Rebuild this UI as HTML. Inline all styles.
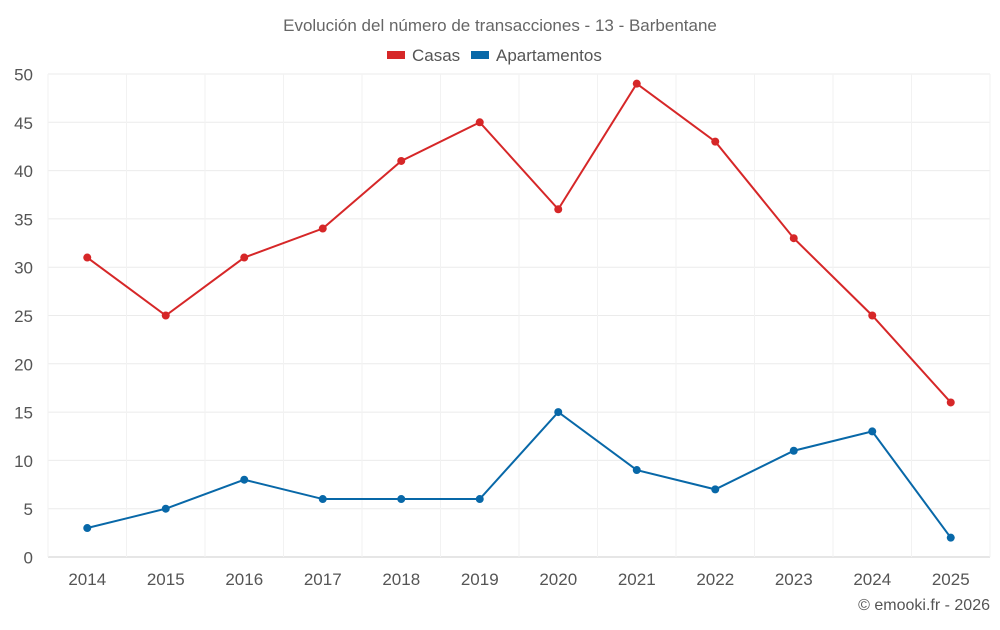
<!DOCTYPE html>
<html><head><meta charset="utf-8"><style>
body{margin:0;background:#fff;font-family:"Liberation Sans",sans-serif;}
svg text{font-family:"Liberation Sans",sans-serif;}
</style></head><body>
<svg id="chart" width="1000" height="625">
<text x="500" y="31" text-anchor="middle" font-size="17" fill="#666">Evolución del número de transacciones - 13 - Barbentane</text>
<g>
<g><rect x="387" y="51" width="18" height="8" fill="#d62728"/><text x="412" y="61" font-size="17" fill="#555">Casas</text></g>
<g><rect x="471" y="51" width="18" height="8" fill="#0868a8"/><text x="496" y="61" font-size="17" fill="#555">Apartamentos</text></g>
</g>
<g id="grid"></g><g id="axes"></g><g id="series"></g>
<text x="990" y="610" text-anchor="end" font-size="16" fill="#555">© emooki.fr - 2026</text>
</svg>
<script>
const years=[2014,2015,2016,2017,2018,2019,2020,2021,2022,2023,2024,2025];
const casas=[31,25,31,34,41,45,36,49,43,33,25,16];
const apartamentos=[3,5,8,6,6,6,15,9,7,11,13,2];
const yTicks=[0,5,10,15,20,25,30,35,40,45,50];
const L=48,R=990,T=74,B=557,NS="http://www.w3.org/2000/svg";
const step=(R-L)/years.length;
const x=i=>L+step*(i+0.5);
const y=v=>B-(v/50)*(B-T);
function mk(tag,attrs,parent){const e=document.createElementNS(NS,tag);for(const k in attrs)e.setAttribute(k,attrs[k]);parent.appendChild(e);return e;}
const grid=document.getElementById('grid'),axes=document.getElementById('axes'),ser=document.getElementById('series');
yTicks.forEach(t=>{
 const l=mk('line',{x1:L,x2:R,y1:y(t),y2:y(t),stroke:t===0?'#ccc':'#ebebeb'},grid);
 
 
 const tx=mk('text',{x:33,y:y(t)+6.5,'text-anchor':'end','font-size':17,fill:'#555'},axes);
 tx.textContent=t;
 
 
});
for(let i=0;i<=years.length;i++){
 const l=mk('line',{x1:L+step*i,x2:L+step*i,y1:T,y2:B,stroke:'#f2f2f2'},grid);
 
 
}
years.forEach((yr,i)=>{
 const tx=mk('text',{x:x(i),y:585,'text-anchor':'middle','font-size':17,fill:'#555'},axes);
 tx.textContent=yr;
 
 
});
function draw(vals,color,name){
 const g=mk('g',{},ser);
 
 
 const p=mk('polyline',{points:vals.map((v,i)=>x(i)+','+y(v)).join(' '),fill:'none',stroke:color,'stroke-width':2},g);
 
 
 vals.forEach((v,i)=>{
  const c=mk('circle',{cx:x(i),cy:y(v),r:4,fill:color},g);
  
  
 });
}
draw(casas,'#d62728','casas');
draw(apartamentos,'#0868a8','apartamentos');
</script>
</body></html>
